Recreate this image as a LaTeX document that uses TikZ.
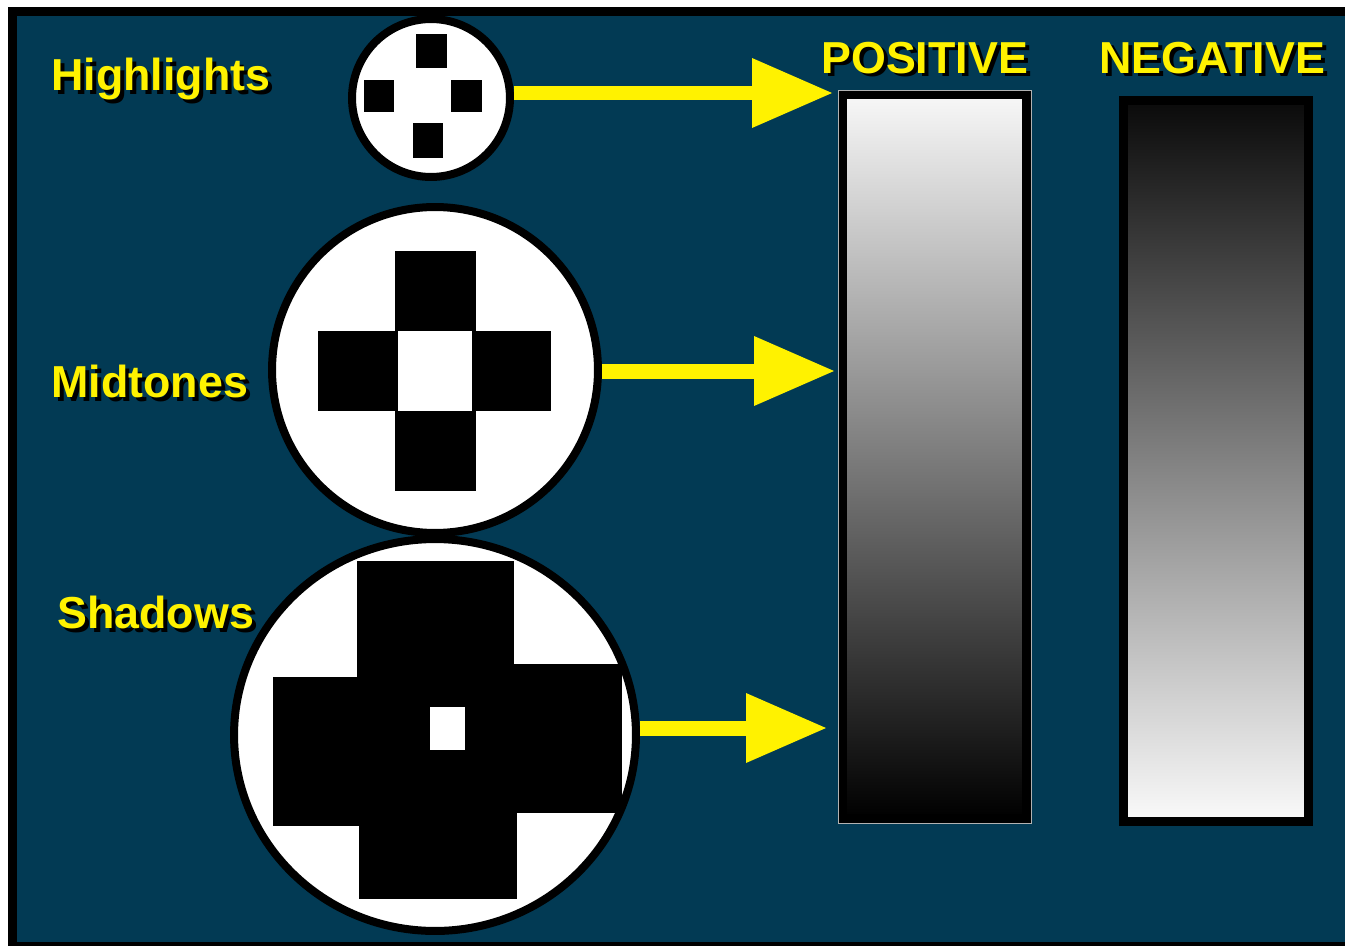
\documentclass[tikz,border=0pt]{standalone}
\usepackage{fontspec}
\setmainfont{Liberation Sans}
\usetikzlibrary{shapes,arrows.meta}
\definecolor{slide}{RGB}{2,58,84}
\newcommand\dropshade[1]{\makebox[0pt][l]{\hspace{0.08cm}\raisebox{-0.08cm}{\color{black}#1}}#1}
\tikzset{
  dot/.style={shape=circle,draw=black,fill=white,line width=0.16cm,inner sep=0pt},
  bar/.style={shape=rectangle,draw=black,line width=0.18cm,inner sep=0pt},
  beam/.style={-{Triangle[length=1.6cm,width=1.4cm,line width=0pt]},color=yellow,line width=0.3cm},
  tag/.style={anchor=base west,inner sep=0pt,text=yellow,font=\fontsize{25.5}{30}\selectfont\bfseries}
}

\begin{document}
\begin{tikzpicture}[x=0.02cm,y=-0.02cm]
\useasboundingbox (0,0) rectangle (1345,946);
\clip (0,0) rectangle (1345,946);
\fill[black] (8,7) rectangle (1360,960);
\fill[slide] (17,16) rectangle (1350,942);

\node[bar,minimum width=3.68cm,minimum height=14.48cm,top color=white!97!black,bottom color=black] (pos) at (934.5,456.5) {};
\draw[gray!60,line width=0.4pt] (pos.north west) rectangle (pos.south east);
\node[bar,minimum width=3.70cm,minimum height=14.42cm,top color=black!96,bottom color=white!98!black] (neg) at (1216,461) {};

\coordinate (t1) at (832,93);
\coordinate (t2) at (834,371);
\coordinate (t3) at (826,728);

\node[dot,minimum size=3.16cm] (hl) at (431,98) {};
\node[dot,minimum size=6.52cm] (mid) at (435,370) {};
\node[shape=ellipse,draw=black,fill=white,line width=0.16cm,inner sep=0pt,minimum width=8.04cm,minimum height=7.84cm] (sh) at (435,735) {};

\path (hl.east |- t1) edge[beam] (t1);
\path (mid.east |- t2) edge[beam] (t2);
\path (sh.east |- t3) edge[beam] (t3);

\fill[black] (416,34) rectangle (447,68);
\fill[black] (364,80) rectangle (394,112);
\fill[black] (451,80) rectangle (482,112);
\fill[black] (413,123) rectangle (443,158);

\fill[black] (395,251) rectangle (476,331);
\fill[black] (318,331) rectangle (398,411);
\fill[black] (472,331) rectangle (551,411);
\fill[black] (395,411) rectangle (476,491);

\fill[black] (357,561) rectangle (514,720);
\fill[black] (273,677) rectangle (514,826);
\fill[black] (430,664) rectangle (622,813);
\fill[black] (359,720) rectangle (517,899);
\fill[white] (430,707) rectangle (465,750);

\node[tag] (hltext) at (51,91) {\dropshade{Highlights}};
\node[tag] (midtext) at (51,397) {\dropshade{Midtones}};
\node[tag] (shtext) at (57,628) {\dropshade{Shadows}};
\node[tag] (postext) at (821,73) {\dropshade{POSITIVE}};
\node[tag] (negtext) at (1099,73) {\dropshade{NEGATIVE}};
\end{tikzpicture}
\end{document}
